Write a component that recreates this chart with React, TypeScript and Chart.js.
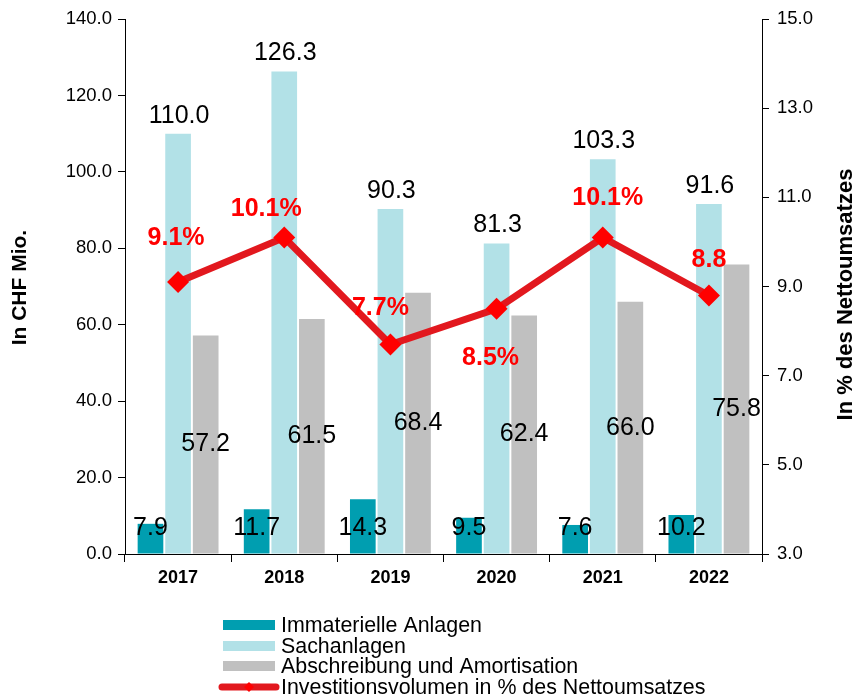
import React, { useEffect, useRef } from "react";
import { Chart, registerables } from "chart.js";

Chart.register(...registerables);

const years = ["2017", "2018", "2019", "2020", "2021", "2022"];
const immaterielle = [7.9, 11.7, 14.3, 9.5, 7.6, 10.2];
const sachanlagen = [110.0, 126.3, 90.3, 81.3, 103.3, 91.6];
const abschreibung = [57.2, 61.5, 68.4, 62.4, 66.0, 75.8];
const investPct = [9.1, 10.1, 7.7, 8.5, 10.1, 8.8];
const investLabels = ["9.1%", "10.1%", "7.7%", "8.5%", "10.1%", "8.8"];

const seriesNames = [
  "Immaterielle Anlagen",
  "Sachanlagen",
  "Abschreibung und Amortisation",
  "Investitionsvolumen in % des Nettoumsatzes",
];

const FONT = "'Liberation Sans', Arial, sans-serif";
const C_IMM = "rgb(0,158,176)";
const C_SACH = "rgb(178,225,231)";
const C_ABS = "rgb(192,192,192)";
const C_LINE = "rgb(226,24,30)";
const C_MARK = "rgb(255,0,0)";

// label offsets relative to point (style only)
const lineLabelOffsets = [
  [-2, -44],
  [-18, -28],
  [-10, -36],
  [-6, 49],
  [5, -39],
  [0, -35],
];

const labelPlugin = {
  id: "customLabels",
  afterDatasetsDraw(chart: any) {
    const ctx = chart.ctx;
    const area = chart.chartArea;
    ctx.save();
    ctx.textAlign = "center";
    ctx.textBaseline = "middle";
    ctx.font = `25px ${FONT}`;
    ctx.fillStyle = "#000";
    const m0 = chart.getDatasetMeta(0);
    const m1 = chart.getDatasetMeta(1);
    const m2 = chart.getDatasetMeta(2);
    immaterielle.forEach((v, i) => {
      const el = m0.data[i];
      ctx.fillText(v.toFixed(1), el.x, area.bottom - 26);
    });
    sachanlagen.forEach((v, i) => {
      const el = m1.data[i];
      ctx.fillText(v.toFixed(1), el.x + 1, el.y - 18);
    });
    abschreibung.forEach((v, i) => {
      const el = m2.data[i];
      ctx.fillText(v.toFixed(1), el.x, (el.y + el.base) / 2);
    });
    ctx.font = `bold 25px ${FONT}`;
    ctx.fillStyle = C_MARK;
    const m3 = chart.getDatasetMeta(3);
    investLabels.forEach((t, i) => {
      const el = m3.data[i];
      const [dx, dy] = lineLabelOffsets[i];
      ctx.fillText(t, el.x + dx, el.y + dy);
    });
    ctx.restore();
  },
  afterDraw(chart: any) {
    const ctx = chart.ctx;
    const area = chart.chartArea;
    const cy = (area.top + area.bottom) / 2;
    ctx.save();
    ctx.fillStyle = "#000";
    ctx.textAlign = "center";
    ctx.textBaseline = "middle";
    ctx.save();
    ctx.font = `bold 21px ${FONT}`;
    ctx.translate(20, cy + 1);
    ctx.rotate(-Math.PI / 2);
    ctx.fillText("In CHF Mio.", 0, 0);
    ctx.restore();
    ctx.save();
    ctx.font = `bold 22px ${FONT}`;
    ctx.translate(846, cy + 8);
    ctx.rotate(-Math.PI / 2);
    ctx.fillText("In % des Nettoumsatzes", 0, 0);
    ctx.restore();

    // legend
    const x0 = 223;
    const boxW = 52;
    const textX = 281;
    const ys = [625, 646, 666, 687];
    const colors = [C_IMM, C_SACH, C_ABS];
    ctx.font = `21.4px ${FONT}`;
    ctx.textAlign = "left";
    ctx.textBaseline = "middle";
    seriesNames.forEach((name, i) => {
      const y = ys[i];
      if (i < 3) {
        ctx.fillStyle = colors[i];
        ctx.fillRect(x0, y - 5, boxW, 10);
      } else {
        ctx.strokeStyle = C_LINE;
        ctx.lineWidth = 7;
        ctx.lineCap = "round";
        ctx.beginPath();
        ctx.moveTo(x0 - 1, y);
        ctx.lineTo(x0 + boxW + 1, y);
        ctx.stroke();
        ctx.fillStyle = C_MARK;
        ctx.beginPath();
        ctx.moveTo(x0 + 26, y - 5);
        ctx.lineTo(x0 + 31, y);
        ctx.lineTo(x0 + 26, y + 5);
        ctx.lineTo(x0 + 21, y);
        ctx.closePath();
        ctx.fill();
      }
      ctx.fillStyle = "#000";
      ctx.fillText(name, textX, y + 1);
    });
    ctx.restore();
  },
};

export default function App() {
  const ref = useRef<HTMLCanvasElement>(null);
  useEffect(() => {
    if (!ref.current) return;
    const barCommon = {
      categoryPercentage: 0.78,
      barPercentage: 0.93,
      yAxisID: "y",
      order: 2,
    };
    const chart = new Chart(ref.current, {
      type: "bar",
      data: {
        labels: years,
        datasets: [
          { ...barCommon, type: "bar", label: seriesNames[0], data: immaterielle, backgroundColor: C_IMM },
          { ...barCommon, type: "bar", label: seriesNames[1], data: sachanlagen, backgroundColor: C_SACH },
          { ...barCommon, type: "bar", label: seriesNames[2], data: abschreibung, backgroundColor: C_ABS },
          {
            type: "line",
            label: seriesNames[3],
            data: investPct,
            yAxisID: "y1",
            order: 1,
            borderColor: C_LINE,
            borderWidth: 7,
            pointStyle: "rectRot",
            pointRadius: 11,
            pointBackgroundColor: C_MARK,
            pointBorderColor: C_MARK,
            pointBorderWidth: 0,
            tension: 0,
          } as any,
        ],
      },
      options: {
        responsive: false,
        animation: false,
        layout: { padding: { top: 18, bottom: 100, left: 0, right: 0 } },
        plugins: { legend: { display: false }, tooltip: { enabled: false } },
        scales: {
          x: {
            offset: true,
            grid: { display: true, drawOnChartArea: false, offset: true, tickLength: 8, color: "#000", lineWidth: 1 },
            border: { display: true, color: "#000", width: 1 },
            ticks: { color: "#000", font: { family: FONT, size: 18, weight: "bold" }, padding: 5 },
            afterFit(scale: any) {
              scale.height = 44;
            },
          },
          y: {
            position: "left",
            min: 0,
            max: 140,
            ticks: {
              stepSize: 20,
              color: "#000",
              font: { family: FONT, size: 18.5 },
              padding: 6,
              callback: (v: any) => Number(v).toFixed(1),
            },
            grid: { display: true, drawOnChartArea: false, tickLength: 7, color: "#000" },
            border: { display: true, color: "#000", width: 1 },
            afterFit(scale: any) {
              scale.width = 125;
            },
          },
          y1: {
            position: "right",
            min: 3,
            max: 15,
            ticks: {
              stepSize: 2,
              color: "#000",
              font: { family: FONT, size: 18.5 },
              padding: 8,
              callback: (v: any) => Number(v).toFixed(1),
            },
            grid: { display: true, drawOnChartArea: false, tickLength: 7, color: "#000" },
            border: { display: true, color: "#000", width: 1 },
            afterFit(scale: any) {
              scale.width = 93;
            },
          },
        },
      } as any,
      plugins: [labelPlugin],
    });
    return () => chart.destroy();
  }, []);
  return (
    <div style={{ position: "absolute", left: 0, top: 0, width: 855, height: 698, background: "#fff" }}>
      <canvas ref={ref} width={855} height={698} style={{ display: "block" }} />
    </div>
  );
}
